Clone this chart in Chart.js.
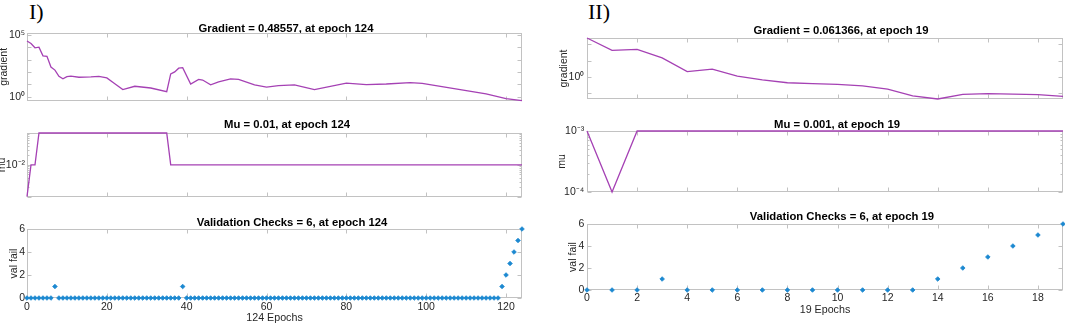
<!DOCTYPE html>
<html lang="en">
<head>
<meta charset="UTF-8">
<title>Training record</title>
<style>
    body { margin: 0; background: #fff; }
    #fig { position: relative; width: 1065px; height: 323px; overflow: hidden; background: #fff; }
    #fig canvas { position: absolute; }
    .tag {
        position: absolute;
        font-family: "Liberation Serif", "Times New Roman", serif;
        font-size: 22px;
        line-height: 22px;
        color: #000;
    }
</style>
</head>
<body>
<div id="fig">
    <div class="tag" style="left:29px; top:1px;">I)</div>
    <div class="tag" style="left:588px; top:1px;">II)</div>
    <canvas id="gradI"></canvas>
    <canvas id="muI"></canvas>
    <canvas id="valI"></canvas>
    <canvas id="gradII"></canvas>
    <canvas id="muII"></canvas>
    <canvas id="valII"></canvas>
</div>

<script src="https://cdn.jsdelivr.net/npm/chart.js@4"></script>
<script>
    // ---- panel I : 124 epochs ----
    const gradEpochsI = [0,1,2,3,4,5,6,7,8,9,10,11,13,16,18,20,22,24,27,31,35,36,37,38,39,41,43,44,46,48,51,53,57,60,63,67,72,80,85,90,96,99,107,115,120,124];
    const gradValuesI = [31600,20000,8900,10000,2000,1800,250,140,44,28,42,45,37,40,44,33,11,3.7,6.9,5.0,2.5,69,100,200,220,10.5,25,22,8.9,15.5,27.5,25,8.9,5.9,7.9,8.9,3.7,12.6,9.3,10.5,13.8,11.7,4.5,1.66,0.68,0.48557];

    const muEpochsI = [0,1,2,3,35,36,124];
    const muValuesI = [0.001,0.01,0.01,0.1,0.1,0.01,0.01];

    const valFailI = [
        0,0,0,0,0,0,0,1,0,0,0,0,0,0,0,0,0,0,0,0,0,0,0,0,0,
        0,0,0,0,0,0,0,0,0,0,0,0,0,0,1,0,0,0,0,0,0,0,0,0,0,
        0,0,0,0,0,0,0,0,0,0,0,0,0,0,0,0,0,0,0,0,0,0,0,0,0,
        0,0,0,0,0,0,0,0,0,0,0,0,0,0,0,0,0,0,0,0,0,0,0,0,0,
        0,0,0,0,0,0,0,0,0,0,0,0,0,0,0,0,0,0,0,1,2,3,4,5,6
    ];

    // ---- panel II : 19 epochs ----
    const epochsII = [0,1,2,3,4,5,6,7,8,9,10,11,12,13,14,15,16,17,18,19];
    const gradValuesII = [245,42.7,49,14.5,2.09,2.95,1.10,0.646,0.427,0.372,0.339,0.275,0.174,0.066,0.0425,0.083,0.091,0.085,0.079,0.061366];
    const muValuesII = [0.001,0.0001,0.001,0.001,0.001,0.001,0.001,0.001,0.001,0.001,0.001,0.001,0.001,0.001,0.001,0.001,0.001,0.001,0.001,0.001];
    const valFailII = [0,0,0,1,0,0,0,0,0,0,0,0,0,0,1,2,3,4,5,6];

    // ---- ticks and tick labels ----
    const xTicksI = [0,20,40,60,80,100,120];
    const xTicksII = [0,2,4,6,8,10,12,14,16,18];
    const valTicks = [0,2,4,6];
    const gradTicksI = [1,10,100,1000,10000,100000];
    const gradLabelsI = [[1,'10⁰'],[100000,'10⁵']];
    const muTicksI = [0.001,0.002,0.003,0.004,0.005,0.006,0.007,0.008,0.009,0.01,0.02,0.03,0.04,0.05,0.06,0.07,0.08,0.09,0.1];
    const muLabelsI = [[0.01,'10⁻²']];
    const gradTicksII = [0.1,1,10,100];
    const gradLabelsII = [[1,'10⁰']];
    const muTicksII = [0.0001,0.0002,0.0003,0.0004,0.0005,0.0006,0.0007,0.0008,0.0009,0.001];
    const muLabelsII = [[0.0001,'10⁻⁴'],[0.001,'10⁻³']];

    const LINE = '#a541b4';
    const MARK = '#1b88d0';
    const BOX = '#c2c2c2';
    const TEXT = '#262626';

    Chart.defaults.font.family = '"Liberation Sans", Arial, Helvetica, sans-serif';

    function isDecade(v) {
        const l = Math.log10(v);
        return Math.abs(l - Math.round(l)) < 1e-9;
    }

    function findLabel(list, v) {
        for (const [k, t] of list) {
            if (Math.abs(k - v) <= Math.abs(k) * 1e-6) return t;
        }
        return '';
    }

    // MATLAB style box with inward ticks
    const boxTicks = {
        id: 'boxTicks',
        beforeDatasetsDraw(chart) {
            const { ctx, chartArea: a, scales } = chart;
            const l = Math.round(a.left) + 0.5, r = Math.round(a.right) - 0.5;
            const t = Math.round(a.top) + 0.5, b = Math.round(a.bottom) - 0.5;
            ctx.save();
            ctx.strokeStyle = BOX;
            ctx.lineWidth = 1;
            ctx.strokeRect(l, t, r - l, b - t);
            ctx.beginPath();
            scales.x.ticks.forEach(tk => {
                const x = Math.round(scales.x.getPixelForValue(tk.value)) + 0.5;
                ctx.moveTo(x, b); ctx.lineTo(x, b - 4);
                ctx.moveTo(x, t); ctx.lineTo(x, t + 4);
            });
            scales.y.ticks.forEach(tk => {
                const y = Math.round(scales.y.getPixelForValue(tk.value)) + 0.5;
                const len = tk.major === false ? 2 : 4;
                ctx.moveTo(l, y); ctx.lineTo(l + len, y);
                ctx.moveTo(r, y); ctx.lineTo(r - len, y);
            });
            ctx.stroke();
            ctx.restore();
        }
    };

    function subplot(id, o) {
        const cv = document.getElementById(id);
        cv.width = o.w;
        cv.height = o.h;
        cv.style.left = o.left + 'px';
        cv.style.top = o.top + 'px';
        const titleSize = 11.3;
        return new Chart(cv, {
            type: 'line',
            data: { datasets: o.datasets },
            options: {
                responsive: false,
                animation: false,
                events: [],
                layout: { padding: 0 },
                plugins: {
                    legend: { display: false },
                    tooltip: { enabled: false },
                    title: {
                        display: true,
                        text: o.title,
                        color: '#000',
                        font: { size: titleSize, weight: 'bold', lineHeight: 1.2 },
                        padding: { top: 0, bottom: o.T - o.top - titleSize * 1.2 }
                    }
                },
                scales: {
                    x: {
                        type: 'linear',
                        min: 0,
                        max: o.xMax,
                        afterBuildTicks: s => { s.ticks = o.xTicks.map(v => ({ value: v })); },
                        afterFit: s => { s.height = o.xh; },
                        grid: { display: false, drawTicks: false },
                        border: { display: false },
                        ticks: {
                            display: !!o.xTitle,
                            autoSkip: false,
                            maxRotation: 0,
                            padding: o.xPad || 2,
                            color: TEXT,
                            font: { size: 10.5 },
                            callback: v => String(v)
                        },
                        title: {
                            display: !!o.xTitle,
                            text: o.xTitle || '',
                            color: TEXT,
                            font: { size: 10.7 },
                            padding: { top: 0, bottom: 0 }
                        }
                    },
                    y: {
                        type: o.yType,
                        min: o.yMin,
                        max: o.yMax,
                        afterBuildTicks: s => {
                            s.ticks = o.yTicks.map(v => ({ value: v, major: o.yType === 'logarithmic' ? isDecade(v) : true }));
                        },
                        afterFit: s => { s.width = o.wl; },
                        grid: { display: false, drawTicks: false },
                        border: { display: false },
                        ticks: {
                            autoSkip: false,
                            padding: o.yPad,
                            color: TEXT,
                            font: { size: 10.5 },
                            callback: v => o.yLabels ? findLabel(o.yLabels, v) : String(v)
                        },
                        title: {
                            display: true,
                            text: o.yTitle,
                            color: TEXT,
                            font: { size: 10.5 },
                            padding: { top: o.yTitlePad, bottom: 0 }
                        }
                    },
                    yr: {
                        position: 'right',
                        afterFit: s => { s.width = o.wr; },
                        grid: { display: false, drawTicks: false },
                        border: { display: false },
                        ticks: { display: false }
                    }
                }
            },
            plugins: [boxTicks]
        });
    }

    function lineSet(xs, ys) {
        return {
            data: xs.map((x, i) => ({ x: x, y: ys[i] })),
            borderColor: LINE,
            borderWidth: 1.3,
            pointRadius: 0,
            tension: 0,
            fill: false,
            clip: false
        };
    }

    function markSet(ys) {
        return {
            data: ys.map((y, i) => ({ x: i, y: y })),
            showLine: false,
            pointStyle: 'rectRot',
            pointRadius: 2.3,
            backgroundColor: MARK,
            borderColor: MARK,
            borderWidth: 0.8,
            clip: false
        };
    }

    // panel I
    subplot('gradI', {
        left: -20, top: 22, w: 612, h: 87, wl: 47, wr: 70, xh: 3, T: 33,
        title: 'Gradient = 0.48557, at epoch 124',
        xMax: 124, xTicks: xTicksI,
        yType: 'logarithmic', yMin: 0.47, yMax: 140000, yTicks: gradTicksI, yLabels: gradLabelsI,
        yPad: 2, yTitle: 'gradient', yTitlePad: 18.2,
        datasets: [lineSet(gradEpochsI, gradValuesI)]
    });
    subplot('muI', {
        left: -20, top: 118, w: 614, h: 87, wl: 47, wr: 72, xh: 3, T: 133,
        title: 'Mu = 0.01, at epoch 124',
        xMax: 124, xTicks: xTicksI,
        yType: 'logarithmic', yMin: 0.001, yMax: 0.1, yTicks: muTicksI, yLabels: muLabelsI,
        yPad: 2, yTitle: 'mu', yTitlePad: 16.2,
        datasets: [lineSet(muEpochsI, muValuesI)]
    });
    subplot('valI', {
        left: -20, top: 216, w: 624, h: 108, wl: 47, wr: 82, xh: 26, T: 229,
        title: 'Validation Checks = 6, at epoch 124',
        xMax: 124, xTicks: xTicksI, xTitle: '124 Epochs', xPad: 2.4,
        yType: 'linear', yMin: 0, yMax: 6, yTicks: valTicks,
        yPad: 2, yTitle: 'val fail', yTitlePad: 27.8,
        datasets: [markSet(valFailI)]
    });

    // panel II
    subplot('gradII', {
        left: 545, top: 24, w: 592, h: 84, wl: 42, wr: 74, xh: 3, T: 38,
        title: 'Gradient = 0.061366, at epoch 19',
        xMax: 19, xTicks: xTicksII,
        yType: 'logarithmic', yMin: 0.0425, yMax: 245, yTicks: gradTicksII, yLabels: gradLabelsII,
        yPad: 2.7, yTitle: 'gradient', yTitlePad: 12.9,
        datasets: [lineSet(epochsII, gradValuesII)]
    });
    subplot('muII', {
        left: 545, top: 118, w: 584, h: 83, wl: 42, wr: 66, xh: 3, T: 131,
        title: 'Mu = 0.001, at epoch 19',
        xMax: 19, xTicks: xTicksII,
        yType: 'logarithmic', yMin: 0.0001, yMax: 0.001, yTicks: muTicksII, yLabels: muLabelsII,
        yPad: 2.7, yTitle: 'mu', yTitlePad: 11.2,
        datasets: [lineSet(epochsII, muValuesII)]
    });
    subplot('valII', {
        left: 545, top: 210, w: 594, h: 106, wl: 42, wr: 76, xh: 26, T: 224,
        title: 'Validation Checks = 6, at epoch 19',
        xMax: 19, xTicks: xTicksII, xTitle: '19 Epochs', xPad: 2,
        yType: 'linear', yMin: 0, yMax: 6, yTicks: valTicks,
        yPad: 2.7, yTitle: 'val fail', yTitlePad: 22.1,
        datasets: [markSet(valFailII)]
    });
</script>
</body>
</html>
